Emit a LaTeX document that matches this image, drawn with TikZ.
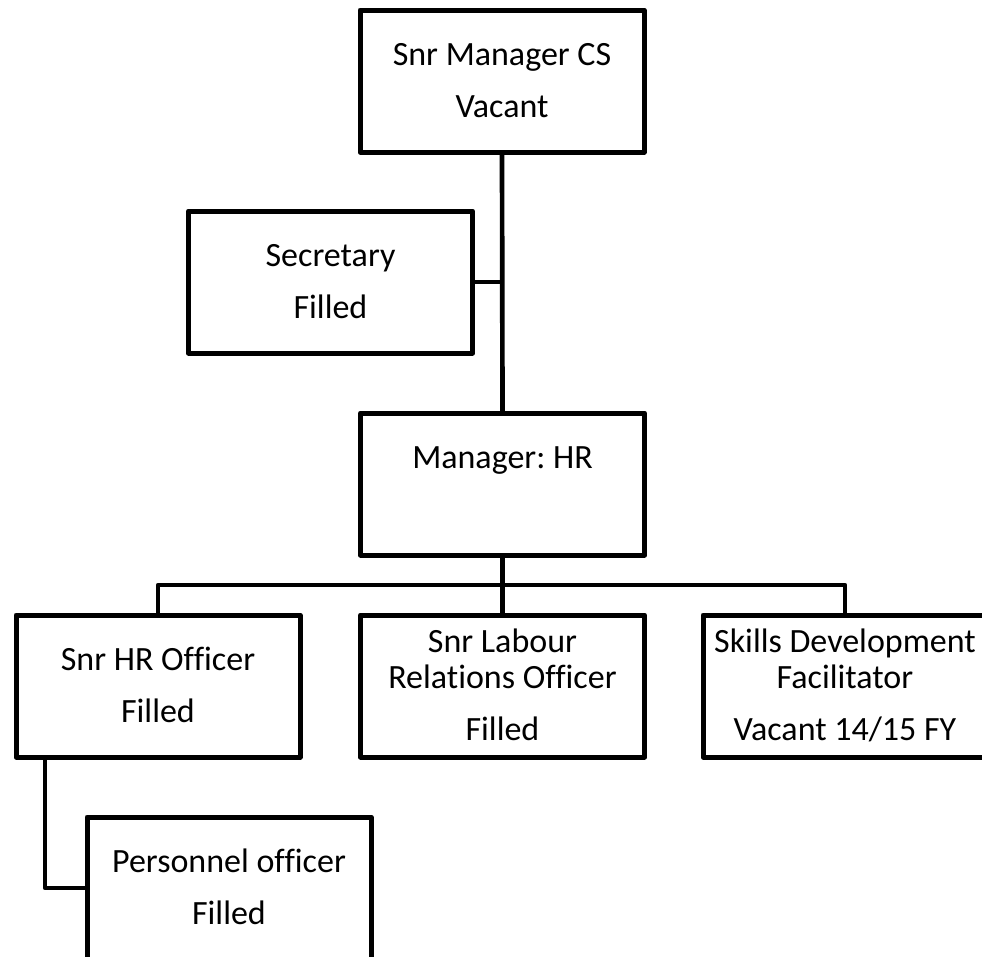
\documentclass[tikz,border=0pt]{standalone}
\usepackage{fontspec}
\setmainfont{Carlito}[Ligatures=CommonOff]
\frenchspacing
\newcommand\orgtext[2]{\parbox[c][106.5pt][t]{213pt}{\centering\rule{0pt}{#1}#2\par}}
\tikzset{
  orgbox/.style={draw, line width=3.75pt, line join=round, inner sep=0pt, outer sep=0pt, rectangle,
    font=\fontsize{25.5pt}{39pt}\selectfont},
  tightbox/.style={orgbox, font=\fontsize{25.5pt}{27pt}\selectfont},
  link/.style={line width=3.5pt, line join=round}
}
\begin{document}
\begin{tikzpicture}[x=0.75pt,y=-0.75pt]
\useasboundingbox (0,0) rectangle (982,957);
\clip (0,0) rectangle (982,957);
\fill[white] (0,0) rectangle (982,957);
\node[orgbox] (mcs) at (502,81) {\orgtext{41.25pt}{Snr Manager CS\\Vacant}};
\node[orgbox] (sec) at (330.5,282) {\orgtext{41.25pt}{Secretary\\Filled}};
\node[orgbox] (mhr) at (502.5,484) {\orgtext{41.25pt}{Manager: HR}};
\node[orgbox] (hro) at (158,686) {\orgtext{41.25pt}{Snr HR Officer\\Filled}};
\node[tightbox] (lab) at (502.5,686) {\orgtext{27.75pt}{Snr Labour\\Relations Officer\\[12pt]Filled}};
\node[tightbox] (sdf) at (845,686) {\orgtext{27.75pt}{Skills Development\\Facilitator\\[12pt]Vacant 14/15 FY}};
\node[orgbox] (per) at (229,888) {\orgtext{41.25pt}{Personnel officer\\Filled}};
\coordinate (bus) at (502,585);
\draw[link] (mcs.south) -- (mhr.north);
\draw[link] (sec.east) -- (sec.east -| mcs.south);
\draw[link] (mhr.south) -- (lab.north);
\draw[link] (hro.north) -- (hro.north |- bus) -- (sdf.north |- bus) -- (sdf.north);
\draw[link] ([xshift=21.75pt]hro.south west) |- (per.west);
\end{tikzpicture}
\end{document}
